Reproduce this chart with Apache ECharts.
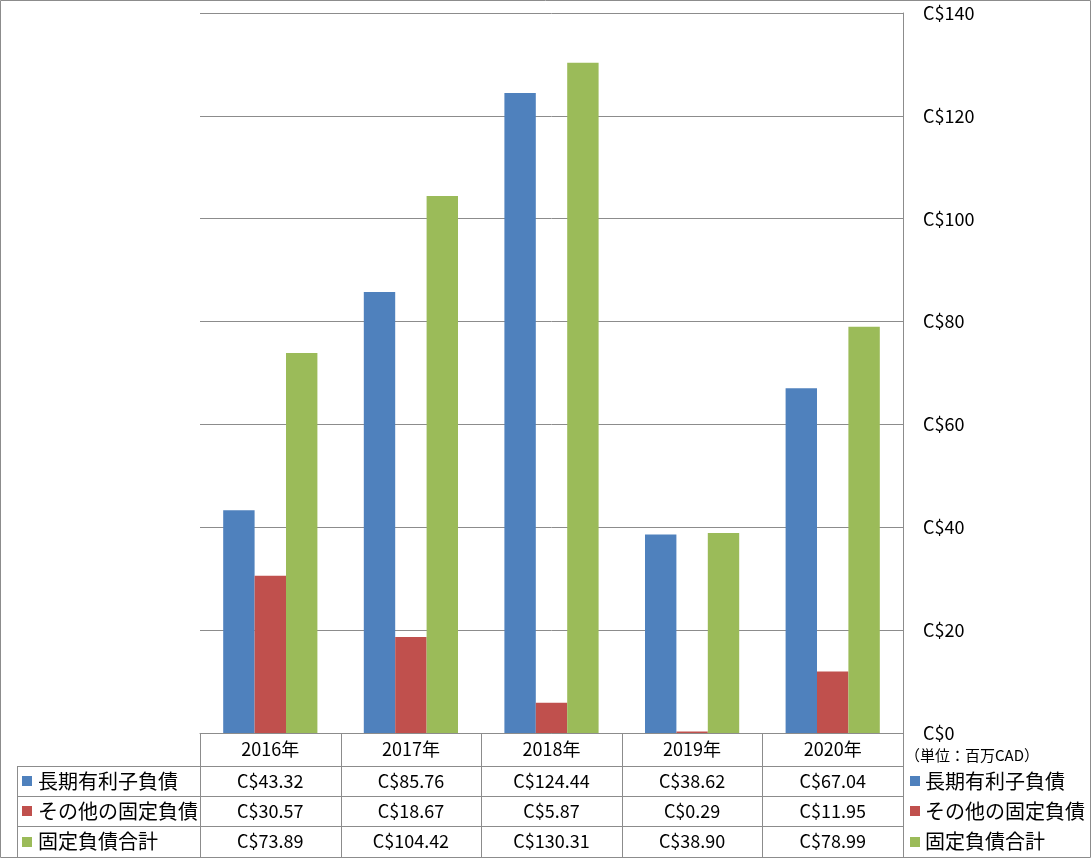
<!DOCTYPE html>
<html><head><meta charset="utf-8">
<script src="https://cdn.jsdelivr.net/npm/echarts@6/dist/echarts.min.js"></script>
<style>html,body{margin:0;padding:0;background:#fff}#c{width:1091px;height:858px}</style>
</head><body><div id="c"></div>
<script>
const categories = ['2016年', '2017年', '2018年', '2019年', '2020年'];
const seriesNames = ['長期有利子負債', 'その他の固定負債', '固定負債合計'];
const longTermDebt = [43.32, 85.76, 124.44, 38.62, 67.04];
const otherFixed = [30.57, 18.67, 5.87, 0.29, 11.95];
const totalFixed = [73.89, 104.42, 130.31, 38.90, 78.99];
const yTicks = [0, 20, 40, 60, 80, 100, 120, 140];
const unitNote = '（単位：百万CAD）';

const seriesData = [longTermDebt, otherFixed, totalFixed];
const colors = ['#4F81BD', '#C0504D', '#9BBB59'];
const FONT = '"Noto Sans CJK JP", "Noto Sans", sans-serif';
const LINE = '#8c8c8c';

const chart = echarts.init(document.getElementById('c'), null, {renderer: 'canvas'});
const grid = {left: 200, right: 188, top: 13, bottom: 125};
chart.setOption({
  animation: false,
  grid: grid,
  xAxis: {
    type: 'category', data: categories,
    axisLine: {show: true, lineStyle: {color: LINE}},
    axisTick: {show: false}, axisLabel: {show: false}, splitLine: {show: false}
  },
  yAxis: {
    type: 'value', position: 'right',
    min: yTicks[0], max: yTicks[yTicks.length - 1], interval: yTicks[1] - yTicks[0],
    axisLine: {show: true, lineStyle: {color: LINE}},
    axisTick: {show: false},
    splitLine: {show: true, lineStyle: {color: LINE, width: 1}},
    axisLabel: {formatter: v => 'C$' + v, fontFamily: FONT, fontSize: 18, color: '#000', margin: 20}
  },
  series: seriesNames.map((n, i) => ({
    type: 'bar', name: n, data: seriesData[i],
    itemStyle: {color: colors[i]}, barGap: '0%', barCategoryGap: '33%'
  }))
});

// Data table below the plot
const W = 1091, H = 858;
const xL = grid.left, xR = W - grid.right;
const rowsY = [H - grid.bottom, 766, 796, 826, H - 1];
const legendLeft = 17;
const colW = (xR - xL) / categories.length;
const els = [];
const c = v => Math.round(v) + 0.5;
function hline(x1, x2, y) { els.push({type: 'line', shape: {x1: x1, y1: c(y), x2: x2, y2: c(y)}, style: {stroke: LINE, lineWidth: 1}, silent: true}); }
function vline(x, y1, y2) { els.push({type: 'line', shape: {x1: c(x), y1: y1, x2: c(x), y2: y2}, style: {stroke: LINE, lineWidth: 1}, silent: true}); }
function text(t, x, y, align, size) {
  els.push({type: 'text', x: x, y: y, silent: true,
    style: {text: t, fill: '#000', font: size + 'px ' + FONT, align: align, verticalAlign: 'middle'}});
}
// outer frame
els.push({type: 'rect', shape: {x: 0.5, y: 0.5, width: W - 1, height: H - 1}, style: {fill: null, stroke: LINE, lineWidth: 1}, silent: true});
for (let r = 1; r < rowsY.length; r++) hline(legendLeft, xR, rowsY[r]);
for (let i = 0; i <= categories.length; i++) vline(xL + colW * i, rowsY[0], rowsY[4]);
vline(legendLeft, rowsY[1], rowsY[4]);
categories.forEach((cat, i) => {
  const cx = chart.convertToPixel({xAxisIndex: 0}, cat);
  text(cat, cx, (rowsY[0] + rowsY[1]) / 2, 'center', 18);
  seriesData.forEach((arr, s) => {
    text('C$' + arr[i].toFixed(2), cx, (rowsY[s + 1] + rowsY[s + 2]) / 2, 'center', 18);
  });
});
seriesNames.forEach((n, s) => {
  const cy = (rowsY[s + 1] + rowsY[s + 2]) / 2;
  els.push({type: 'rect', shape: {x: 22, y: Math.round(cy) - 5, width: 10, height: 10}, style: {fill: colors[s]}, silent: true});
  text(n, 38, cy, 'left', 20);
  els.push({type: 'rect', shape: {x: 910, y: Math.round(cy) - 5, width: 10, height: 10}, style: {fill: colors[s]}, silent: true});
  text(n, 925, cy, 'left', 20);
});
text(unitNote, 905, 755, 'left', 15);
chart.setOption({graphic: {elements: els}});
</script></body></html>
